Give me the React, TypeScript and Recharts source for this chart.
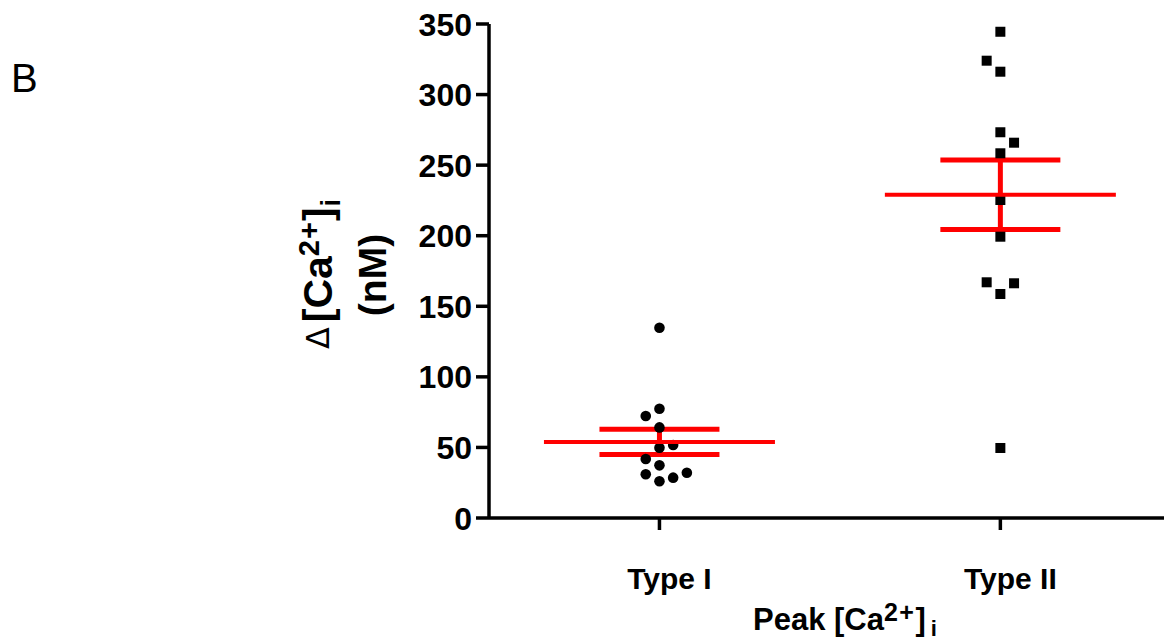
import { ScatterChart, Scatter, XAxis, YAxis, ErrorBar } from "recharts"

const categories = ["Type I", "Type II"]
const typeIValues = [134.8, 77.4, 72.3, 64.2, 51.7, 49.8, 41.8, 37.3, 32.1, 31, 28.6, 26]
const typeIIValues = [344.5, 324, 316.2, 273.3, 265.9, 258.4, 225.3, 199.3, 167, 166.3, 158.7, 49.6]
const yTicks = [0, 50, 100, 150, 200, 250, 300, 350]

const W = 1164
const H = 643
const PLOT_LEFT = 489
const PLOT_TOP = 24
const PLOT_BOTTOM = 518
const X_DOMAIN: [number, number] = [0.5, 2.48]
const Y_MAX = 350

const FONT = "'Liberation Sans', Arial, sans-serif"
const RED = "#ff0000"

// beeswarm: push points sideways when they would overlap in the same column
const pxPerY = (PLOT_BOTTOM - PLOT_TOP) / Y_MAX
const pxPerX = (W - PLOT_LEFT) / (X_DOMAIN[1] - X_DOMAIN[0])
const GAP = 12 / pxPerY
const STEP = 13.7 / pxPerX

function swarm(values: number[], center: number) {
    const sorted = [...values].sort((a, b) => a - b)
    const placed: { v: number; col: number }[] = []
    let side = 1
    for (const v of sorted) {
        const clash = (c: number) => placed.some(p => p.col === c && Math.abs(p.v - v) < GAP)
        let col = 0
        if (clash(0)) {
            const order = [side, -side, 2 * side, -2 * side, 3 * side, -3 * side]
            col = order.find(c => !clash(c)) ?? 0
            side = col > 0 ? -1 : 1
        }
        placed.push({ v, col })
    }
    return placed.map(p => ({ x: center + p.col * STEP, y: p.v }))
}

function meanSem(values: number[]) {
    const n = values.length
    const mean = values.reduce((s, v) => s + v, 0) / n
    const sd = Math.sqrt(values.reduce((s, v) => s + (v - mean) ** 2, 0) / (n - 1))
    return { mean, sem: sd / Math.sqrt(n) }
}

const typeIData = swarm(typeIValues, 1)
const typeIIData = swarm(typeIIValues, 2)
const summaryData = [typeIValues, typeIIValues].map((vals, i) => {
    const s = meanSem(vals)
    return { x: i + 1, y: s.mean, err: s.sem }
})

const Dot = (p: any) => <circle cx={p.cx} cy={p.cy} r={5.3} fill="#000" />
const Square = (p: any) => <rect x={p.cx - 5} y={p.cy - 5} width={10} height={10} fill="#000" />
const MeanLine = (p: any) => (
    <line x1={p.cx - 115.5} x2={p.cx + 115.5} y1={p.cy} y2={p.cy} stroke={RED} strokeWidth={4} />
)

const YTick = (p: any) => (
    <text x={p.x} y={p.y} dy="0.36em" textAnchor="end" fontSize={32} fontWeight="bold" fontFamily={FONT} fill="#000">
        {p.payload.value}
    </text>
)

const XTick = (p: any) => (
    <text x={p.x + 10} y={p.y + 57} textAnchor="middle" fontSize={30} fontWeight="bold" fontFamily={FONT} fill="#000">
        {categories[p.payload.value - 1]}
    </text>
)

const YTitle = () => (
    <g fontFamily={FONT} fontWeight="bold" fill="#000">
        <text x={11} y={92} fontSize={40} fontWeight="normal">B</text>
        <text x={332} y={274} transform="rotate(-90 332 274)" textAnchor="middle" fontSize={41}>
            <tspan fontWeight="normal" fontFamily="'DejaVu Sans', sans-serif" fontSize={32} dy={-3}>Δ</tspan>
            <tspan dx={5} dy={3}>[Ca</tspan>
            <tspan fontSize={29} dy={-13} letterSpacing={1}>2+</tspan>
            <tspan dy={13}>]</tspan>
            <tspan fontSize={27} dy={8} dx={1}>i</tspan>
        </text>
        <text x={386} y={275} transform="rotate(-90 386 275)" textAnchor="middle" fontSize={39}>(nM)</text>
    </g>
)

const XTitle = () => (
    <text x={753} y={630} fontFamily={FONT} fontWeight="bold" fontSize={31} fill="#000">
        Peak [Ca
        <tspan fontSize={25} dy={-9} letterSpacing={1.5}>2+</tspan>
        <tspan dy={9}>]</tspan>
        <tspan fontSize={22} dy={6} dx={5}>i</tspan>
    </text>
)

export default function App() {

    return (

        <div style={{ position: "absolute", left: 0, top: 0, background: "#fff" }}>

            <ScatterChart width={W} height={H} margin={{ top: PLOT_TOP, right: 0, bottom: 0, left: 0 }}>

                <XAxis
                    type="number"
                    dataKey="x"
                    domain={X_DOMAIN}
                    ticks={[1, 2]}
                    height={H - PLOT_BOTTOM}
                    tickSize={12}
                    axisLine={{ stroke: "#000", strokeWidth: 3.5 }}
                    tickLine={{ stroke: "#000", strokeWidth: 3.5 }}
                    tick={<XTick />}
                    label={XTitle}
                    allowDataOverflow
                />

                <YAxis
                    type="number"
                    dataKey="y"
                    domain={[0, Y_MAX]}
                    ticks={yTicks}
                    width={PLOT_LEFT}
                    tickSize={13}
                    tickMargin={4}
                    axisLine={{ stroke: "#000", strokeWidth: 3.5 }}
                    tickLine={{ stroke: "#000", strokeWidth: 3.5 }}
                    tick={<YTick />}
                    label={YTitle}
                    allowDataOverflow
                />

                <Scatter data={typeIData} shape={Dot} isAnimationActive={false} />
                <Scatter data={typeIIData} shape={Square} isAnimationActive={false} />

                <Scatter data={summaryData} shape={MeanLine} isAnimationActive={false}>
                    <ErrorBar dataKey="err" direction="y" width={60} strokeWidth={5} stroke={RED} />
                </Scatter>

            </ScatterChart>

        </div>

    )

}
